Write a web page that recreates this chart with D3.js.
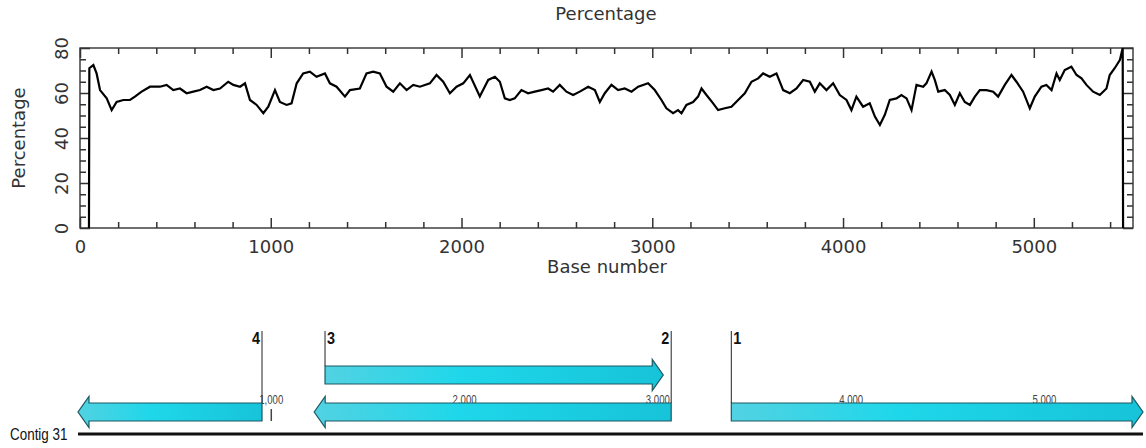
<!DOCTYPE html>
<html>
<head>
<meta charset="utf-8">
<script src="https://cdn.jsdelivr.net/npm/d3@7"></script>
<style>
body { margin: 0; background: #fff; }
svg { display: block; }
</style>
</head>
<body>
<svg id="chart" width="1146" height="448"></svg>
<script>
// percentage plot (base position / value)
var bases = [47, 49, 70, 87, 105, 140, 166, 192, 227, 262, 288, 323, 367, 419, 454, 489, 524, 559, 594, 629,
  664, 699, 734, 777, 804, 839, 865, 891, 926, 961, 987, 1022, 1048, 1083, 1109, 1136, 1170, 1205, 1240, 1284,
  1310, 1345, 1389, 1415, 1467, 1502, 1537, 1572, 1607, 1642, 1677, 1712, 1747, 1782, 1834, 1869, 1904, 1939, 1974, 2009,
  2044, 2096, 2113, 2140, 2175, 2201, 2227, 2253, 2279, 2314, 2349, 2384, 2419, 2454, 2480, 2515, 2550, 2585, 2620, 2664,
  2699, 2725, 2751, 2786, 2821, 2856, 2891, 2926, 2978, 3013, 3048, 3074, 3109, 3135, 3153, 3179, 3214, 3240, 3258, 3284,
  3319, 3345, 3380, 3415, 3450, 3485, 3520, 3555, 3581, 3616, 3651, 3686, 3721, 3756, 3791, 3826, 3852, 3878, 3913, 3948,
  3983, 4018, 4044, 4070, 4105, 4140, 4167, 4193, 4219, 4245, 4280, 4306, 4333, 4359, 4385, 4420, 4437, 4464, 4481, 4499,
  4533, 4560, 4586, 4612, 4638, 4665, 4691, 4717, 4752, 4787, 4813, 4848, 4883, 4909, 4944, 4979, 5005, 5040, 5066, 5093,
  5119, 5136, 5162, 5197, 5224, 5250, 5276, 5311, 5346, 5381, 5398, 5424, 5451, 5466, 5468];
var percent = [0, 71, 72.4, 68.7, 61.3, 57.6, 52.4, 56, 56.9, 56.9, 58.4, 60.6, 62.8, 62.8, 63.6, 61.3, 62, 59.9, 60.6, 61.3,
  62.8, 61.3, 62, 65, 63.6, 62.8, 64.3, 56.9, 54.7, 51, 53.9, 61.3, 56, 54.7, 55.4, 64.3, 68.7, 69.5, 67.2, 68.7,
  64.3, 62.8, 58.4, 61.3, 62, 68.7, 69.5, 68.7, 62.8, 60.6, 64.3, 61.3, 63.6, 62.8, 64.3, 68, 65, 59.9, 62.8, 64.3,
  68, 58.5, 61.3, 65.8, 67.2, 65, 57.6, 56.9, 57.6, 61.3, 59.9, 60.6, 61.3, 62, 60.6, 63.6, 60.6, 59.1, 60.6, 62.8,
  61.3, 56, 59.9, 63.6, 61.3, 62, 60.6, 62.8, 64.3, 61.3, 56.9, 53.2, 51, 52.4, 51, 54.7, 56, 58.4, 62, 59.1,
  55.4, 52.4, 53.2, 53.9, 56.9, 59.9, 65, 66.5, 68.7, 67.2, 68.7, 61.3, 59.9, 62, 65.8, 65, 60.6, 64.3, 61.3, 64.3,
  59.1, 56.9, 52.4, 58.4, 53.9, 55.4, 49.5, 45.8, 50.3, 56.9, 57.6, 59.1, 57.6, 52.4, 63.6, 62.8, 64.3, 69.5, 65.8, 60.6,
  61.3, 59.1, 54.7, 59.9, 56, 54.7, 58.4, 61.3, 61.3, 60.6, 58.4, 63.6, 68, 65, 60.6, 53.2, 58.4, 62.8, 63.6, 61.3,
  68.7, 65.8, 70.2, 71.7, 68, 66.5, 63.6, 60.6, 59.1, 62, 68, 71, 74.6, 80, 0];

var xTicks = [0, 1000, 2000, 3000, 4000, 5000];
var yTicks = [0, 20, 40, 60, 80];

// contig map
var contigName = "Contig 31";
var contigLength = 5510;
var orfNames = ["1", "2", "3", "4"];
var orfStart = [3380, 1222, 1278, 0];
var orfEnd = [5510, 3069, 3028, 952];
var orfStrand = [1, -1, 1, -1];
var orfRow = [1, 1, 0, 1];
var mapTicks = [1000, 2000, 3000, 4000, 5000];

var svg = d3.select("#chart");
var plotFont = "'DejaVu Sans', sans-serif";

var x = d3.scaleLinear().domain([0, 5520]).range([80, 1133]);
var y = d3.scaleLinear().domain([0, 80]).range([228, 48]);

function minorOf(step, max, major) {
  return d3.range(step, max, step).filter(function (d) { return d % major != 0; });
}

// frame
svg.append("rect")
  .attr("x", x(0)).attr("y", y(80))
  .attr("width", x(5520) - x(0)).attr("height", y(0) - y(80))
  .attr("fill", "none").attr("stroke", "#333").attr("stroke-width", 1.4);

function styleAxis(g) {
  g.select(".domain").remove();
  g.selectAll(".tick line").attr("stroke", "#333").attr("stroke-width", 1.5);
  g.selectAll("text").attr("font-family", plotFont).attr("font-size", 18).attr("fill", "#333");
}

// bottom + top ticks (inward)
svg.append("g").attr("transform", "translate(0," + y(0) + ")")
  .call(d3.axisBottom(x).tickValues(xTicks).tickSize(-10).tickPadding(12).tickFormat(d3.format("d")))
  .call(styleAxis);
svg.append("g").attr("transform", "translate(0," + y(0) + ")")
  .call(d3.axisBottom(x).tickValues(minorOf(200, 5520, 1000)).tickSize(-6).tickFormat(""))
  .call(styleAxis);
svg.append("g").attr("transform", "translate(0," + y(80) + ")")
  .call(d3.axisTop(x).tickValues(xTicks).tickSize(-10).tickFormat(""))
  .call(styleAxis);
svg.append("g").attr("transform", "translate(0," + y(80) + ")")
  .call(d3.axisTop(x).tickValues(minorOf(200, 5520, 1000)).tickSize(-6).tickFormat(""))
  .call(styleAxis);

// left + right ticks (inward)
var left = svg.append("g").attr("transform", "translate(" + x(0) + ",0)")
  .call(d3.axisLeft(y).tickValues(yTicks).tickSize(-10).tickFormat(d3.format("d")))
  .call(styleAxis);
left.selectAll("text")
  .attr("x", 0).attr("y", -12).attr("dy", null)
  .attr("text-anchor", "middle")
  .attr("transform", "rotate(-90)");
svg.append("g").attr("transform", "translate(" + x(0) + ",0)")
  .call(d3.axisLeft(y).tickValues(minorOf(5, 80, 20)).tickSize(-6).tickFormat(""))
  .call(styleAxis);
svg.append("g").attr("transform", "translate(" + x(5520) + ",0)")
  .call(d3.axisRight(y).tickValues(yTicks).tickSize(-10).tickFormat(""))
  .call(styleAxis);
svg.append("g").attr("transform", "translate(" + x(5520) + ",0)")
  .call(d3.axisRight(y).tickValues(minorOf(5, 80, 20)).tickSize(-6).tickFormat(""))
  .call(styleAxis);

// the curve
var line = d3.line()
  .x(function (d, i) { return x(bases[i]); })
  .y(function (d) { return y(d); });
svg.append("path")
  .datum(percent)
  .attr("d", line)
  .attr("fill", "none")
  .attr("stroke", "#000")
  .attr("stroke-width", 2.2)
  .attr("stroke-linejoin", "miter");

// titles
svg.append("text").attr("x", 606).attr("y", 20).attr("text-anchor", "middle")
  .attr("font-family", plotFont).attr("font-size", 18).attr("fill", "#333").text("Percentage");
svg.append("text").attr("x", 607).attr("y", 273).attr("text-anchor", "middle")
  .attr("font-family", plotFont).attr("font-size", 18).attr("fill", "#333").text("Base number");
svg.append("text").attr("transform", "translate(25,138) rotate(-90)").attr("text-anchor", "middle")
  .attr("font-family", plotFont).attr("font-size", 18).attr("fill", "#333").text("Percentage");

// ---- contig map ----
var m = d3.scaleLinear().domain([0, contigLength]).range([78, 1143]);
var mapFont = "'Liberation Sans', Arial, sans-serif";
var rowY = [375, 412];
var bodyH = 9, headH = 15.5, headL = 11;

var defs = svg.append("defs");
var grad = defs.append("linearGradient").attr("id", "orfFill")
  .attr("x1", "0%").attr("x2", "100%").attr("y1", "0%").attr("y2", "0%");
grad.append("stop").attr("offset", "0%").attr("stop-color", "#52d2e2");
grad.append("stop").attr("offset", "40%").attr("stop-color", "#1fd7ea");
grad.append("stop").attr("offset", "100%").attr("stop-color", "#17c3d8");

// narrow text: Liberation Sans squeezed horizontally
function narrowText(px, py, sx) {
  return "translate(" + px + "," + py + ") scale(" + sx + ",1)";
}

// scale labels and ticks (arrows drawn over them)
svg.selectAll(".mapLabel").data(mapTicks).enter().append("text")
  .attr("transform", function (d) { return narrowText(m(d), 404, 0.8); })
  .attr("text-anchor", "middle")
  .attr("font-family", mapFont).attr("font-size", 12).attr("fill", "#444")
  .text(d3.format(","));
svg.selectAll(".mapTick").data(mapTicks).enter().append("line")
  .attr("x1", function (d) { return m(d); }).attr("x2", function (d) { return m(d); })
  .attr("y1", 409).attr("y2", 421)
  .attr("stroke", "#444").attr("stroke-width", 1.5);

function arrowPath(i) {
  var cy = rowY[orfRow[i]];
  var a = m(orfStart[i]), b = m(orfEnd[i]);
  if (orfStrand[i] > 0) {
    return "M" + a + "," + (cy - bodyH) + "L" + (b - headL) + "," + (cy - bodyH) +
      "L" + (b - headL) + "," + (cy - headH) + "L" + b + "," + cy +
      "L" + (b - headL) + "," + (cy + headH) + "L" + (b - headL) + "," + (cy + bodyH) +
      "L" + a + "," + (cy + bodyH) + "Z";
  }
  return "M" + b + "," + (cy - bodyH) + "L" + (a + headL) + "," + (cy - bodyH) +
    "L" + (a + headL) + "," + (cy - headH) + "L" + a + "," + cy +
    "L" + (a + headL) + "," + (cy + headH) + "L" + (a + headL) + "," + (cy + bodyH) +
    "L" + b + "," + (cy + bodyH) + "Z";
}

var orfIdx = d3.range(orfNames.length);
svg.selectAll(".orf").data(orfIdx).enter().append("path")
  .attr("d", arrowPath)
  .attr("fill", "url(#orfFill)")
  .attr("stroke", "#1d5863").attr("stroke-width", 1.2);

function flagX(i) { return orfStrand[i] > 0 ? m(orfStart[i]) : m(orfEnd[i]); }
svg.selectAll(".flag").data(orfIdx).enter().append("line")
  .attr("x1", flagX).attr("x2", flagX)
  .attr("y1", 331).attr("y2", function (i) { return rowY[orfRow[i]] - bodyH; })
  .attr("stroke", "#222").attr("stroke-width", 1);
svg.selectAll(".flagLabel").data(orfIdx).enter().append("text")
  .attr("transform", function (i) { return narrowText(flagX(i) + (orfStrand[i] > 0 ? 2 : -2), 344, 0.9); })
  .attr("text-anchor", function (i) { return orfStrand[i] > 0 ? "start" : "end"; })
  .attr("font-family", mapFont).attr("font-size", 16).attr("font-weight", "bold").attr("fill", "#111")
  .text(function (i) { return orfNames[i]; });

// contig line
svg.append("line")
  .attr("x1", m(0)).attr("x2", m(contigLength)).attr("y1", 434).attr("y2", 434)
  .attr("stroke", "#111").attr("stroke-width", 3);
svg.append("text").attr("transform", narrowText(10, 440, 0.84))
  .attr("font-family", mapFont).attr("font-size", 16).attr("fill", "#111")
  .text(contigName);
</script>
</body>
</html>
